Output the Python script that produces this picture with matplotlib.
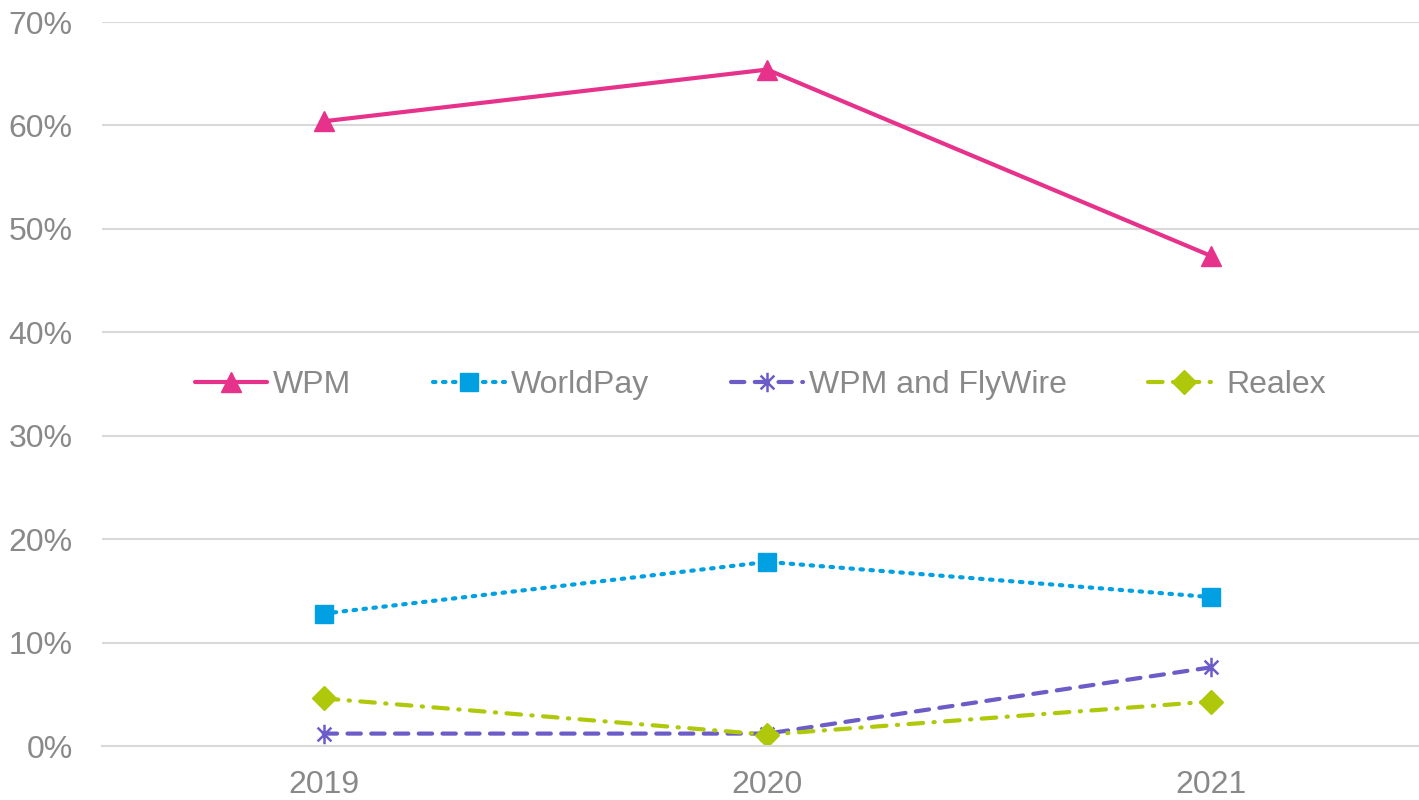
import matplotlib
matplotlib.use('Agg')
import matplotlib.pyplot as plt
import numpy as np
from matplotlib.path import Path
from matplotlib.ticker import PercentFormatter

plt.rcParams.update({'font.family': ['Liberation Sans', 'DejaVu Sans'],
                     'font.size': 23})

years = ['2019', '2020', '2021']
wpm = [60.4, 65.4, 47.4]
worldpay = [12.8, 17.8, 14.4]
wpm_flywire = [1.2, 1.2, 7.6]
realex = [4.6, 1.1, 4.3]

# Excel-style star marker: x plus vertical bar
s = 0.7071
star = Path([(-s, -s), (s, s), (-s, s), (s, -s), (0, -1), (0, 1)],
            [Path.MOVETO, Path.LINETO, Path.MOVETO, Path.LINETO, Path.MOVETO, Path.LINETO])

grey = '#898989'
fig = plt.figure(figsize=(14.19, 8), dpi=100)
ax = fig.add_axes([0.0719, 0.0675, 0.9281, 0.905])
x = np.arange(len(years))

ax.plot(x, wpm, color='#E7328C', lw=3, marker='^', ms=14, label='WPM',
        solid_capstyle='round')
ax.plot(x, worldpay, color='#00A0E3', lw=3, ls=(0, (0.6, 1.8)), marker='s', ms=13,
        dash_capstyle='round', label='WorldPay')
ax.plot(x, wpm_flywire, color='#6B5CC8', lw=3, ls=(0, (3.2, 2.5)), marker=star, ms=14,
        mew=1.8, dash_capstyle='round', label='WPM and FlyWire')
ax.plot(x, realex, color='#AFC90A', lw=3, ls=(0, (3.5, 2.5, 0.3, 2.5)), marker='D', ms=12,
        dash_capstyle='round', label='Realex')

ax.set_xlim(-0.5, 2.47)
ax.set_ylim(0, 70)
ax.set_yticks(np.arange(0, 71, 10))
ax.yaxis.set_major_formatter(PercentFormatter(decimals=0))
ax.set_xticks(x)
ax.set_xticklabels(years)
ax.grid(axis='y', color='#D9D9D9', lw=1.5)
ax.set_axisbelow(True)
for sp in ['top', 'right', 'left']:
    ax.spines[sp].set_visible(False)
ax.spines['bottom'].set_color('#D9D9D9')
ax.spines['bottom'].set_linewidth(1.5)
ax.tick_params(length=0, colors=grey, labelsize=23)
ax.tick_params(axis='x', pad=17)
ax.tick_params(axis='y', pad=21)

leg = ax.legend(loc='center', bbox_to_anchor=(0.50, 0.4986), ncol=4, frameon=False,
                handlelength=2.25, handletextpad=0.2, columnspacing=2.55, fontsize=23)
for t in leg.get_texts():
    t.set_color(grey)

fig.savefig('out.png', dpi=100)
